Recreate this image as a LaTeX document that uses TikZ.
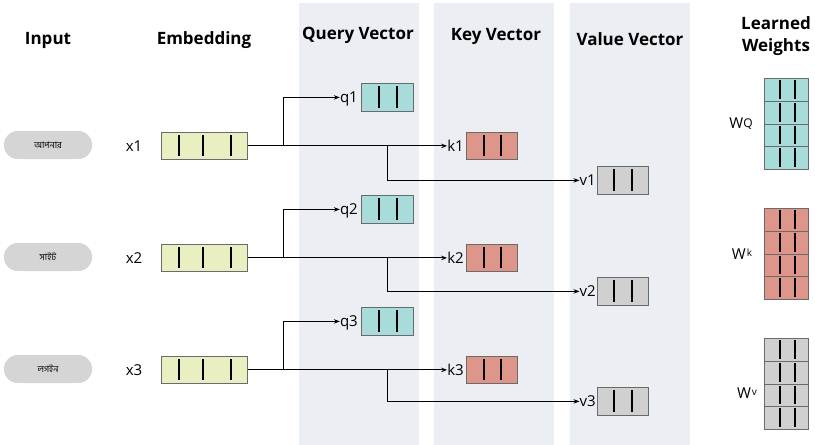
\documentclass[tikz,border=0pt]{standalone}
\usepackage{fontspec}
\setmainfont{Open Sans}
\newfontfamily\bnfont[Script=Bengali]{Hind Siliguri}
\usetikzlibrary{arrows.meta}
\definecolor{panelc}{HTML}{EBEEF3}
\definecolor{embc}{HTML}{EAEFC2}
\definecolor{qc}{HTML}{A8DCDB}
\definecolor{kc}{HTML}{DD9689}
\definecolor{vc}{HTML}{D0D0D0}
\definecolor{pillc}{HTML}{D5D5D5}
\definecolor{bordc}{HTML}{6A6A6A}
\begin{document}
\begin{tikzpicture}[x=1pt,y=-1pt,
  panel/.style={fill=panelc,draw=none},
  head/.style={font=\bfseries\fontsize{17}{20}\selectfont,inner sep=0pt,align=center},
  lab/.style={font=\fontsize{15}{15}\selectfont,inner sep=0pt,text height=10.5pt,text depth=0pt},
  pill/.style={fill=pillc,draw=none,rounded corners=13.5pt,minimum width=88pt,minimum height=28pt,inner sep=0pt,font=\bnfont\fontsize{9}{9}\selectfont},
  vecbox/.style={draw=bordc,line width=0.8pt,inner sep=0pt,anchor=north west},
  bar/.style={line width=1.7pt,black},
  conn/.style={line width=1pt,black},
  arr/.style={conn,-{Stealth[length=6pt,width=4.5pt]}},
  wrow/.style={draw=bordc,line width=0.9pt,inner sep=0pt,anchor=north west,minimum width=44pt,minimum height=22.75pt},
  wlab/.style={font=\fontsize{15}{15}\selectfont,inner sep=0pt}
]
\useasboundingbox (0,0) rectangle (815,445);
% panels
\fill[panel] (299,3) rectangle (419,445);
\fill[panel] (434,3) rectangle (554,445);
\fill[panel] (570,3) rectangle (690,445);
% headings
\node[head] (hin) at (48,40) {Input};
\node[head] (hemb) at (204,40) {Embedding};
\node[head] (hq) at (358,35) {Query Vector};
\node[head] (hk) at (496,36) {Key Vector};
\node[head] (hv) at (630,39) {Value Vector};
\node[head] (hw1) at (776,23) {Learned};
\node[head] (hw2) at (776,47) {Weights};
% rows
\foreach \r/\w/\vy in {1/{আপনার}/166, 2/{সাইট}/277, 3/{লগইন}/387}{
  \pgfmathsetmacro{\dy}{112*(\r-1)}
  \node[pill] (p\r) at (48,145+\dy) {\w};
  \node[lab,anchor=center] (xl\r) at (134,146+\dy) {x\r};
  % embedding
  \node[vecbox,fill=embc,minimum width=86pt,minimum height=27pt] (e\r) at (161,132+\dy) {};
  \foreach \bx in {179,203,231}{\draw[bar] (\bx,135+\dy) -- (\bx,156+\dy);}
  % query
  \node[vecbox,fill=qc,minimum width=52pt,minimum height=28pt] (qb\r) at (361,83+\dy) {};
  \foreach \bx in {379,397}{\draw[bar] (\bx,86+\dy) -- (\bx,108+\dy);}
  \node[lab,anchor=east] (ql\r) at (358,97.5+\dy) {q\r};
  % key
  \node[vecbox,fill=kc,minimum width=51pt,minimum height=27pt] (kb\r) at (466,132+\dy) {};
  \foreach \bx in {484,501}{\draw[bar] (\bx,135+\dy) -- (\bx,156+\dy);}
  \node[lab,anchor=east] (kl\r) at (464,146+\dy) {k\r};
  % value
  \node[vecbox,fill=vc,minimum width=51pt,minimum height=28pt] (vb\r) at (597,\vy) {};
  \foreach \bx in {614,632}{\draw[bar] (\bx,\vy+3) -- (\bx,\vy+25);}
  \node[lab,anchor=east] (vl\r) at (596,\vy+14.5) {v\r};
  % connectors
  \coordinate (s\r) at (283,146+\dy);
  \coordinate (d\r) at (387,146+\dy);
  \draw[arr] (e\r.east) -- (kl\r.west |- kb\r.center);
  \draw[arr] (s\r) |- (ql\r.west |- qb\r.center);
  \draw[arr] (d\r) |- (vl\r.west |- vb\r.center);
}
% learned weights
\foreach \nm/\col/\ty in {q/qc/78, k/kc/208, v/vc/338}{
  \foreach \i in {0,1,2,3}{
    \node[wrow,fill=\col] (w\nm\i) at (764,\ty+22.75*\i) {};
  }
  \foreach \i in {0,1,2,3}{
    \foreach \bx in {780,795}{\draw[line width=1.5pt] (\bx,\ty+22.75*\i+2) -- (\bx,\ty+22.75*\i+20.75);}
  }
}
\node[wlab] (lwq) at (741,124) {W\raisebox{1pt}{\fontsize{12}{12}\selectfont Q}};
\node[wlab] (lwk) at (742,254) {W\kern1pt\raisebox{3pt}{\fontsize{10}{10}\selectfont k}};
\node[wlab] (lwv) at (747,393) {W\kern1pt\raisebox{3pt}{\fontsize{10}{10}\selectfont v}};
\end{tikzpicture}
\end{document}
